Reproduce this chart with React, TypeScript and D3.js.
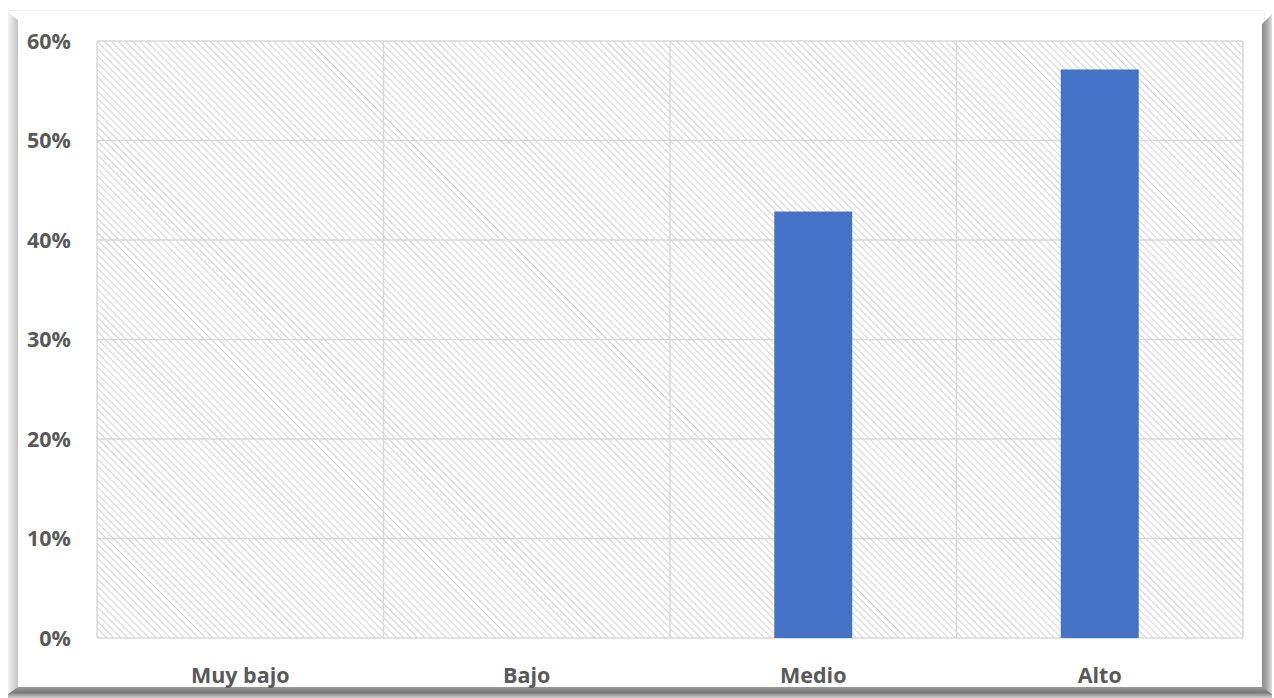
import React from "react";
import * as d3 from "d3";

const categories = ["Muy bajo", "Bajo", "Medio", "Alto"];
const values = [0, 0, 0.4286, 0.5714];
const yTicks = [0, 0.1, 0.2, 0.3, 0.4, 0.5, 0.6];

export default function App() {
  const W = 1274, H = 698;
  const left = 97, right = 1243, top = 41, bottom = 638;
  const x = d3.scaleBand<string>().domain(categories).range([left, right]).paddingInner(0).paddingOuter(0);
  const y = d3.scaleLinear().domain([0, 0.6]).range([bottom, top]);
  const barW = x.bandwidth() * 0.272;
  const fmt = d3.format(".0%");
  const font = "'Open Sans', 'Liberation Sans', sans-serif";
  return (
    <svg width={W} height={H} style={{ position: "absolute", left: 0, top: 0 }}>
      <defs>
        <pattern id="hatch" width="5" height="5" patternUnits="userSpaceOnUse" patternTransform="rotate(45)">
          <rect width="5" height="5" fill="#ffffff" />
          <line x1="0" y1="0" x2="5" y2="0" stroke="#d4d4d4" strokeWidth="2.2" />
        </pattern>
        <linearGradient id="leftG" x1="0" x2="1" y1="0" y2="0">
          <stop offset="0" stopColor="#f2f2f2" />
          <stop offset="0.6" stopColor="#d6d6d6" />
          <stop offset="1" stopColor="#c4c4c4" />
        </linearGradient>
        <linearGradient id="rightG" x1="0" x2="1" y1="0" y2="0">
          <stop offset="0" stopColor="#8a8a8a" />
          <stop offset="0.5" stopColor="#a8a8a8" />
          <stop offset="1" stopColor="#e0e0e0" />
        </linearGradient>
        <linearGradient id="botG" x1="0" x2="0" y1="0" y2="1">
          <stop offset="0" stopColor="#9a9a9a" />
          <stop offset="0.5" stopColor="#7a7a7a" />
          <stop offset="1" stopColor="#d0d0d0" />
        </linearGradient>
      </defs>
      <rect x={0} y={0} width={W} height={H} fill="#ffffff" />
      {/* frame */}
      <rect x={8.5} y={10.5} width={1256} height={678} fill="#ffffff" stroke="#f0f0f0" />
      <polygon points="8,12 18,20 18,688 8,694" fill="url(#leftG)" />
      <polygon points="1272,14 1262,24 1262,688 1272,694" fill="url(#rightG)" />
      <polygon points="8,694 18,687 1262,687 1272,694 1272,698 8,698" fill="url(#botG)" />
      {/* plot background */}
      <rect x={left} y={top} width={right - left} height={bottom - top} fill="url(#hatch)" />
      {yTicks.map((t) => (
        <line key={"g" + t} x1={left} x2={right} y1={y(t)} y2={y(t)} stroke="#d9d9d9" strokeWidth={1.5} />
      ))}
      {categories.map((c) => (
        <line key={"v" + c} x1={x(c)!} x2={x(c)!} y1={top} y2={bottom} stroke="#d9d9d9" strokeWidth={1.5} />
      ))}
      <line x1={right} x2={right} y1={top} y2={bottom} stroke="#d9d9d9" strokeWidth={1.5} />
      {/* bars */}
      {categories.map((c, i) =>
        values[i] > 0 ? (
          <rect
            key={"b" + c}
            x={x(c)! + x.bandwidth() / 2 - barW / 2}
            y={y(values[i])}
            width={barW}
            height={y(0) - y(values[i])}
            fill="#4472c4"
          />
        ) : null
      )}
      {/* y labels */}
      {yTicks.map((t) => (
        <text key={"yl" + t} x={71} y={y(t)} dy="0.35em" textAnchor="end" fontFamily={font} fontWeight="bold" fontSize={21.5} fill="#595959">
          {fmt(t)}
        </text>
      ))}
      {/* x labels */}
      {categories.map((c) => (
        <text key={"xl" + c} x={x(c)! + x.bandwidth() / 2} y={675} dy="0.35em" textAnchor="middle" fontFamily={font} fontWeight="bold" fontSize={21.5} fill="#595959">
          {c}
        </text>
      ))}
    </svg>
  );
}
